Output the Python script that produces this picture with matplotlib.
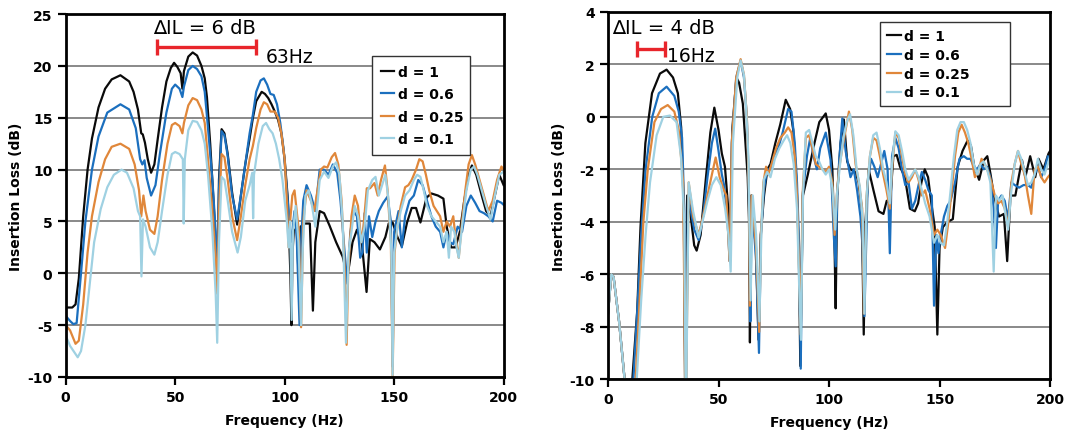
import numpy as np
import matplotlib.pyplot as plt

plt.rcParams['font.family'] = 'DejaVu Sans'
plt.rcParams['axes.unicode_minus'] = False

# Insertion loss curves, columns = frequency (Hz), IL (dB)
# ---- left panel ----
left_d1 = np.array([
    [0, -3.3], [3, -3.3], [4.5, -3.0], [6, -0.5], [8, 5.5], [10, 10.0], [12, 13.0], [15, 16.0],
    [18, 17.8], [21, 18.7], [25, 19.1], [29, 18.5], [31, 17.5], [33, 15.8], [34.5, 13.5],
    [35.2, 13.4], [36.2, 12.6], [37.5, 11.0], [39, 9.7], [40.5, 10.5], [42, 12.9], [44, 16.0],
    [46, 18.5], [48, 19.8], [49.5, 20.3], [51, 19.9], [52.5, 19.3], [53.3, 17.8], [54, 19.5],
    [56, 20.9], [58, 21.3], [60, 21.0], [62, 20.0], [63.5, 18.8], [64.5, 17.0], [66, 12.5],
    [67.5, 7.0], [68.5, 3.0], [69.3, -1.0], [70, 9.0], [71.2, 13.9], [72.5, 13.5], [74, 11.5],
    [76, 7.8], [78.3, 4.7], [80, 7.5], [82, 10.5], [84, 13.0], [85.5, 15.0], [87, 16.6],
    [89.5, 17.5], [91, 17.3], [92.5, 16.9], [94, 16.3], [95.5, 15.6], [97, 14.8], [98.5, 13.5],
    [100, 11.0], [101.5, 7.0], [102.6, 0.0], [103.1, -5.0], [103.6, 2.0], [104.2, 4.2],
    [105.5, 4.2], [106.4, -0.5], [107.3, 4.5], [109, 4.8], [111.5, 4.8], [112.9, -3.6],
    [114, 3.0], [116, 6.0], [118, 5.8], [120.5, 4.6], [123.5, 3.0], [126.5, 1.6], [128.6, -0.3],
    [129.5, 0.8], [131, 3.0], [133, 4.2], [135.2, 3.0], [137.4, -1.8], [138.9, 3.3], [141, 3.0],
    [143.5, 2.3], [146, 3.5], [147.5, 4.8], [149.3, 4.9], [151.5, 3.5], [153.5, 2.6],
    [155.9, 4.9], [158, 6.3], [160, 6.3], [162, 4.9], [164.8, 7.3], [167, 7.7], [170, 7.5],
    [172.5, 7.2], [174, 4.5], [176, 2.5], [178, 2.5], [180, 4.0], [182, 7.0], [184, 9.5],
    [185.5, 10.4], [187.5, 9.5], [190, 7.5], [192, 6.0], [194, 5.5], [196, 7.5], [198, 9.5],
    [200, 8.5]])

left_d06 = np.array([
    [0, -4.1], [2, -4.6], [3.5, -4.9], [5, -4.8], [7, 0.0], [9, 5.0], [12, 10.0], [15, 13.2],
    [19, 15.5], [25, 16.3], [29, 15.8], [32, 14.0], [34, 11.0], [35, 10.5], [36, 10.9], [37, 9.2],
    [39, 7.5], [41, 8.5], [43, 11.5], [46, 15.5], [48.5, 17.8], [50, 18.2], [52, 17.8],
    [53.3, 17.0], [54, 18.0], [56, 19.6], [58, 20.0], [60, 19.7], [62, 19.0], [63.5, 17.5],
    [65, 14.0], [67, 9.0], [68.5, 4.0], [69.3, 0.0], [70, 8.0], [71.2, 13.7], [72.5, 13.3],
    [74, 11.3], [76, 7.5], [78.3, 5.2], [80, 7.5], [82, 10.5], [84, 13.5], [85.5, 15.3],
    [87, 17.5], [89, 18.6], [90.5, 18.8], [92, 18.2], [93.5, 17.3], [95, 17.2], [96.5, 16.3],
    [98, 14.5], [99.5, 12.0], [101, 8.0], [102, 5.5], [102.8, 3.0], [103.5, 4.0], [104.5, 6.0],
    [105.5, 3.5], [106.8, -5.0], [107.5, 3.0], [108.5, 7.0], [110, 8.5], [112, 7.5], [114, 6.0],
    [116, 10.0], [118, 10.0], [120, 9.5], [122, 10.5], [124, 9.7], [125.5, 7.0], [127, 3.0],
    [128.6, -1.0], [130, 4.0], [131.5, 6.0], [133, 5.5], [134.5, 1.5], [135.5, 2.0],
    [136.5, 5.8], [137.5, 2.0], [138.5, 5.5], [140, 3.5], [141.5, 5.0], [143, 6.0], [145, 6.8],
    [147, 7.4], [148.5, 5.0], [149.3, -9.0], [150, 4.0], [152, 6.0], [153.5, 2.5], [155, 5.5],
    [157, 7.0], [159, 7.5], [161, 9.0], [163, 8.5], [165, 7.0], [167, 5.5], [169, 4.5],
    [171, 4.0], [172.5, 2.5], [174, 4.0], [175.5, 3.0], [177, 2.8], [179, 4.5], [181, 4.0],
    [183, 6.5], [185, 7.5], [187, 6.8], [189, 6.0], [191, 5.8], [193, 5.5], [195, 5.0],
    [197, 7.0], [199, 6.8], [200, 6.6]])

left_d025 = np.array([
    [0, -5.0], [2, -5.5], [4.5, -6.8], [6, -6.5], [8, -3.0], [10, 2.0], [12, 5.5], [15, 8.8],
    [18, 11.0], [21, 12.2], [25, 12.5], [29, 12.0], [31.5, 10.5], [33.5, 8.0], [34.5, 5.5],
    [35.5, 7.5], [36.5, 6.0], [38.5, 4.2], [40.5, 3.8], [42, 5.5], [44, 9.0], [46.5, 12.5],
    [48.5, 14.3], [50, 14.5], [52, 14.2], [53.3, 13.5], [54, 14.5], [56, 16.2], [58, 16.9],
    [60, 16.7], [62, 15.8], [63.5, 14.5], [65, 11.0], [67, 6.0], [68.7, 1.0], [69.3, -2.0],
    [70, 6.0], [71.2, 11.5], [72.5, 11.2], [74, 9.0], [76, 5.5], [78.3, 3.2], [80, 5.5],
    [82, 8.5], [84, 11.0], [85.5, 12.3], [87, 14.0], [89, 15.8], [90.5, 16.5], [92, 16.3],
    [93.5, 15.6], [95.5, 15.6], [97, 15.0], [98.5, 13.5], [100, 11.0], [101, 7.0], [101.8, 2.5],
    [102.5, 5.0], [103.5, 7.5], [104.5, 8.0], [105.5, 6.0], [106.5, 4.0], [107.5, -5.2],
    [108.5, 5.0], [110, 8.0], [112, 7.0], [113.5, 6.0], [115, 8.0], [116.5, 10.0], [118, 10.3],
    [119.5, 10.2], [121.5, 11.2], [123, 11.6], [124.5, 10.5], [126, 7.0], [127.5, 0.0],
    [128.3, -6.9], [129, 0.0], [130.5, 5.5], [132, 7.5], [133.5, 6.5], [135, 3.0], [136, 4.5],
    [137.5, 8.2], [139, 8.2], [141, 8.7], [142.5, 7.5], [144, 9.0], [145.8, 10.4], [147, 8.0],
    [148.5, 3.0], [149.3, -10.0], [150.2, 2.0], [151.5, 4.5], [153, 6.5], [155, 8.3],
    [156.5, 8.5], [158, 9.0], [160, 10.0], [161.5, 11.0], [163, 10.8], [164.5, 9.5], [166, 8.0],
    [168, 6.5], [169.5, 6.0], [171, 5.5], [172.5, 4.0], [174, 5.0], [175.5, 4.5], [177, 5.5],
    [178, 3.5], [179.5, 1.5], [181, 5.0], [182.5, 8.0], [184, 10.5], [185.5, 11.4], [187, 10.5],
    [189, 9.0], [191, 7.5], [193, 6.0], [195, 7.0], [197, 9.0], [199, 10.3], [200, 10.0]])

left_d01 = np.array([
    [0, -6.0], [2, -7.0], [5.5, -8.1], [7, -7.5], [9, -5.0], [11, -1.0], [13, 3.0], [16, 6.2],
    [19, 8.3], [22, 9.5], [25.5, 10.0], [28, 9.7], [31, 8.2], [33, 6.0], [34, 5.5], [34.6, -0.3],
    [35.3, 5.2], [36.5, 4.5], [38.5, 2.5], [40.5, 1.8], [42, 3.0], [44, 6.0], [46.5, 9.5],
    [48.5, 11.5], [50, 11.7], [52, 11.5], [53.5, 11.0], [53.9, 4.8], [54.4, 11.0], [56, 13.8],
    [58, 14.7], [60, 14.6], [62, 13.8], [63.5, 12.5], [65, 9.5], [67, 4.0], [68.5, -2.0],
    [69.2, -6.7], [70, 3.0], [71.2, 9.3], [72.5, 9.0], [74, 7.0], [76, 4.0], [78.5, 2.0],
    [80, 3.5], [82, 7.0], [84, 8.5], [85.2, 9.7], [85.6, 5.3], [86, 9.5], [88, 12.5], [90, 14.2],
    [91.5, 14.5], [93, 13.9], [94.5, 13.5], [96, 12.5], [97.5, 11.0], [99, 9.0], [100, 7.0],
    [101, 5.0], [101.8, 2.5], [102.5, 5.0], [103.2, -4.5], [103.8, 4.0], [105, 6.5],
    [106.3, 3.0], [107.5, -5.0], [108.3, 2.5], [109.5, 7.5], [111, 8.0], [112.5, 6.5],
    [114, 4.5], [116, 9.0], [118, 9.8], [120, 9.2], [122, 10.3], [123.5, 10.7], [125, 9.5],
    [126.5, 5.0], [128, -6.7], [129.2, 2.0], [130.5, 4.0], [132, 6.5], [133.5, 5.5], [135, 3.0],
    [136.5, 4.5], [138, 8.0], [140, 9.0], [141.5, 9.3], [143, 7.5], [144.5, 8.5], [146, 9.5],
    [147.5, 7.0], [148.7, 2.0], [149.3, -9.8], [150, 2.0], [151.5, 4.5], [153, 6.0], [155, 7.5],
    [157, 8.0], [159, 9.0], [160.5, 9.5], [162, 9.3], [163.5, 8.0], [165, 6.5], [167, 5.5],
    [169, 5.0], [171, 4.5], [172.5, 3.0], [174, 4.0], [175, 1.5], [176, 4.5], [177.5, 4.0],
    [178.5, 2.5], [179.5, 1.5], [181, 4.5], [183, 8.0], [185, 10.0], [186.5, 10.3], [188, 9.5],
    [190, 8.0], [192, 6.5], [194, 5.2], [196, 7.5], [198, 9.5], [200, 9.8]])

# ---- right panel ----
right_d1 = np.array([
    [0, -7.5], [1.5, -6.0], [2.5, -6.1], [5, -7.8], [7.5, -10.0], [9.5, -13.0], [11, -10.0],
    [13.2, -7.4], [14.7, -4.2], [16.9, -1.0], [19.9, 0.9], [23.5, 1.65], [26.5, 1.8],
    [29.4, 1.5], [31.6, 0.9], [33.1, -0.4], [34.3, -3.6], [35, -12.0], [35.8, -3.0], [37, -3.5],
    [39, -4.9], [40.1, -5.1], [41.9, -4.5], [44.1, -2.5], [46.3, -0.6], [48.1, 0.35], [50, -0.5],
    [51.5, -1.4], [52.9, -1.9], [54.4, -3.5], [55.2, -5.5], [56.2, -0.5], [58.1, 1.5],
    [59.3, 1.3], [61, 0.5], [63.2, -2.3], [63.8, -4.0], [64.2, -8.6], [64.8, -3.0], [66.9, -5.0],
    [68.1, -8.5], [69.1, -4.5], [70.6, -3.0], [72.1, -2.0], [73.5, -1.8], [75.7, -1.0],
    [77.9, -0.3], [80.4, 0.65], [82.4, 0.3], [83.8, -0.5], [85.3, -2.5], [86.3, -5.0],
    [87, -9.5], [88.2, -3.0], [90.4, -2.2], [93.4, -1.0], [95.6, -0.2], [98.5, 0.13],
    [100, -0.5], [101.5, -2.0], [102.5, -5.0], [103, -7.3], [103.7, -3.0], [105.2, -1.0],
    [106.7, -0.1], [108.2, -1.7], [109.7, -2.0], [111.9, -2.1], [113.4, -2.5], [114.8, -3.5],
    [115.7, -8.3], [116.5, -4.0], [117.9, -2.0], [120.1, -2.8], [122.4, -3.6], [124.6, -3.7],
    [126.1, -3.2], [127.6, -3.3], [129.1, -1.5], [130.6, -1.45], [132.1, -1.9], [134.3, -2.3],
    [136.6, -3.5], [138.8, -3.6], [140.3, -3.3], [141.8, -2.5], [143.3, -2.0], [144.8, -2.3],
    [146.3, -3.3], [147.8, -4.2], [149, -8.3], [150, -5.0], [151.5, -4.2], [153.7, -4.0],
    [156, -3.9], [158.2, -1.9], [160.4, -1.3], [162.7, -0.9], [164.2, -1.1], [165.7, -1.9],
    [167.9, -2.4], [170.1, -1.65], [171.6, -1.5], [173.1, -2.2], [174.6, -3.0], [176.9, -3.8],
    [179.1, -3.7], [180.6, -5.5], [182.1, -3.0], [184.3, -3.0], [185.8, -2.3], [187.3, -1.65],
    [188.8, -2.3], [191, -1.5], [193.3, -2.3], [194.8, -1.6], [197, -2.0], [199.3, -1.4],
    [200, -1.3]])

right_d06 = np.array([
    [0, -7.5], [1.5, -6.0], [2.5, -6.1], [5, -7.8], [7.5, -10.0], [9.5, -13.0], [11.5, -10.0],
    [13.5, -7.0], [15, -4.5], [17, -2.0], [20, 0.0], [23, 0.9], [26.5, 1.15], [30, 0.8],
    [32, 0.2], [33.5, -0.8], [34.5, -3.5], [35.1, -12.0], [36.2, -3.0], [39, -4.3], [41, -4.7],
    [43, -3.8], [45, -2.3], [47, -1.0], [48.5, -0.45], [50, -1.3], [51.5, -2.2], [52.5, -2.6],
    [54, -3.8], [55, -5.5], [56, -1.0], [58, 1.5], [60, 2.15], [61.5, 1.5], [62.8, 0.0],
    [63.5, -2.0], [64, -4.0], [64.4, -7.8], [65, -3.0], [67, -5.5], [68.3, -9.0], [69.2, -4.5],
    [70.5, -2.8], [72, -2.0], [73.5, -2.0], [75, -1.5], [77, -1.2], [79, -0.6], [81.5, 0.3],
    [83, 0.2], [84.5, -1.0], [85.5, -2.5], [86.5, -5.0], [87.2, -9.6], [88, -3.0], [90, -1.5],
    [91.5, -0.8], [93, -1.5], [94.5, -2.0], [96, -1.2], [98.5, -0.6], [100.7, -1.65],
    [102.2, -4.6], [103, -5.7], [103.7, -3.0], [104.5, -1.8], [106, -0.06], [107.5, -1.3],
    [109.7, -2.3], [111.2, -2.0], [112.7, -2.8], [114.2, -3.8], [115.2, -5.0], [116, -7.6],
    [117.5, -2.5], [119, -1.6], [120.5, -1.9], [122, -2.3], [123.5, -1.8], [125, -1.3],
    [126.5, -2.0], [127.5, -5.2], [128.5, -1.5], [130, -0.8], [131.5, -1.2], [133, -2.0],
    [134.5, -2.6], [136, -2.5], [137.5, -3.5], [139, -3.2], [140.5, -2.6], [142, -2.1],
    [143.5, -2.4], [145, -2.8], [146.5, -3.0], [147.5, -7.2], [148.5, -4.5], [149.5, -5.2],
    [150.5, -4.5], [152, -3.8], [153.5, -3.4], [155, -3.2], [157, -2.5], [159, -1.6],
    [161, -1.5], [162.5, -1.6], [164, -1.6], [165.5, -1.9], [167, -2.0], [168.5, -1.8],
    [170, -2.0], [171.5, -1.9], [173, -2.3], [174.5, -3.5], [175.5, -5.0], [176.5, -3.2],
    [178, -3.0], [179.5, -3.2], [181, -3.9], [182.5, -2.5], [184, -2.6], [186, -2.7],
    [188, -2.6], [190, -2.6], [191.5, -2.7], [193, -2.2], [194.5, -1.9], [196, -2.3],
    [197.5, -2.0], [199, -1.5], [200, -1.6]])

right_d025 = np.array([
    [0, -7.5], [1.5, -6.0], [2.5, -6.1], [5, -7.8], [7.5, -10.0], [9.5, -13.0], [12.5, -10.0],
    [14, -7.5], [16, -4.0], [18, -2.0], [21, -0.2], [24, 0.3], [27, 0.45], [30, 0.2],
    [32, -0.5], [34, -2.5], [35.1, -12.0], [36.5, -2.5], [38.5, -3.8], [41, -4.5], [43, -3.8],
    [45, -3.0], [47, -2.2], [48.7, -1.55], [50.5, -2.3], [52, -2.7], [53.5, -3.0], [55, -5.5],
    [56, -1.0], [58, 1.5], [60, 2.2], [61.5, 1.6], [62.8, 0.0], [63.8, -3.0], [64.2, -7.2],
    [65, -3.0], [67, -5.0], [68.4, -8.2], [69.2, -4.5], [70.3, -2.5], [71.5, -1.9], [72.5, -2.2],
    [74, -1.8], [76, -1.2], [78, -0.8], [80, -0.6], [81.5, -0.4], [83, -0.6], [84.5, -1.5],
    [85.5, -3.0], [86.5, -6.0], [87.2, -8.3], [88, -3.0], [89.5, -0.8], [91, -0.7],
    [92.5, -1.2], [94, -1.8], [95.5, -1.9], [97, -2.0], [98.5, -2.1], [100, -1.9],
    [101.5, -2.5], [102.5, -4.5], [103.5, -3.0], [104.5, -2.0], [106, -1.2], [107.5, -0.5],
    [109, 0.2], [110.5, -0.5], [112, -1.8], [113.5, -2.5], [115, -3.5], [115.8, -7.5],
    [117, -3.0], [118.5, -1.5], [120, -0.8], [121.5, -0.9], [123, -1.5], [124.5, -2.2],
    [126, -2.8], [127.5, -3.5], [128.5, -2.0], [130, -0.6], [131.5, -0.8], [133, -1.5],
    [134.5, -2.2], [136, -2.5], [137.5, -2.3], [139, -2.0], [140.5, -2.4], [142, -3.0],
    [143.5, -2.8], [145.5, -3.5], [147.5, -4.5], [149, -4.3], [150.5, -4.5], [152.5, -5.0],
    [154, -4.0], [155.5, -2.8], [157, -1.5], [158.5, -0.6], [160, -0.3], [161.5, -0.6],
    [163, -1.0], [164.5, -1.6], [166, -2.3], [167.5, -2.1], [169, -1.6], [170.5, -1.8],
    [172, -2.1], [173.5, -2.5], [175, -3.0], [176.5, -3.3], [178, -3.2], [179.5, -3.5],
    [181, -4.2], [182.5, -2.5], [184, -1.8], [185.5, -1.3], [187, -1.8], [188.5, -2.2],
    [190, -3.0], [191.5, -3.7], [193, -2.0], [194.5, -1.9], [196, -2.3], [197.5, -2.5],
    [199, -2.3], [200, -2.2]])

right_d01 = np.array([
    [0, -7.5], [1.5, -6.0], [2.5, -6.1], [5, -7.8], [7.5, -10.0], [9.5, -13.0], [13, -10.0],
    [15, -7.0], [17, -4.5], [19, -2.5], [22, -0.7], [25, 0.0], [28, 0.05], [31, -0.2],
    [33, -1.5], [34.5, -4.0], [35.2, -12.0], [36.5, -2.5], [38.5, -3.6], [41, -4.6], [43, -3.9],
    [45, -3.2], [47, -2.6], [49, -2.3], [51, -2.6], [53, -3.5], [54.5, -4.5], [55.5, -5.9],
    [56.5, -1.0], [58.5, 1.5], [60, 2.15], [61.5, 1.6], [62.5, 0.3], [63.5, -1.5], [64.5, -7.0],
    [65.5, -3.0], [67, -4.5], [68.5, -7.8], [69.5, -4.0], [70.5, -2.4], [72, -2.1], [73.5, -2.3],
    [75.5, -1.6], [77.5, -1.2], [79.5, -0.9], [81, -0.7], [82.5, -1.0], [84, -1.8], [85.5, -3.5],
    [86.5, -6.5], [87.3, -8.5], [88.2, -3.0], [89.5, -0.6], [91, -0.5], [92.5, -1.0],
    [94, -1.5], [95.5, -1.7], [97, -2.0], [98.5, -2.2], [100, -2.0], [101.5, -2.7],
    [102.8, -4.3], [103.5, -3.0], [105, -1.8], [106.5, -0.8], [108, -0.2], [109.5, 0.1],
    [111, -0.7], [112.5, -2.0], [114, -2.7], [115.3, -4.0], [116, -7.5], [117, -3.0],
    [118.5, -1.5], [120, -0.7], [121.5, -0.6], [123, -1.2], [124.5, -2.0], [126, -2.5],
    [127.5, -3.3], [128.5, -1.8], [130, -0.55], [131.5, -0.7], [133, -1.3], [134.5, -2.0],
    [136, -2.4], [137.5, -2.2], [139, -2.0], [140.5, -2.3], [142, -2.8], [143.5, -3.3],
    [145.5, -3.8], [147.5, -4.8], [149, -4.5], [150.5, -4.8], [152, -4.9], [153.5, -4.0],
    [155, -2.8], [156.5, -1.5], [158, -0.5], [159.5, -0.2], [161, -0.2], [162.5, -0.5],
    [164, -1.0], [165.5, -1.8], [167, -2.2], [168.5, -1.8], [170, -1.7], [171.5, -2.0],
    [173, -2.5], [174.5, -5.9], [175.5, -3.0], [177, -3.2], [178.5, -3.0], [180, -3.8],
    [181, -4.3], [182.5, -2.8], [184, -1.8], [185.5, -1.3], [187, -1.6], [188.5, -2.1],
    [190, -2.6], [191.5, -2.5], [193, -2.2], [194.5, -1.6], [196, -2.0], [197.5, -2.2],
    [199, -1.8], [200, -1.5]])

labels = ['d = 1', 'd = 0.6', 'd = 0.25', 'd = 0.1']
colors = ['#0a0a0a', '#1b6fbe', '#e0873a', '#9fd1e2']


def style_axes(ax, ymin, ymax, ystep):
    ax.set_xlim(0, 200)
    ax.set_ylim(ymin, ymax)
    ax.set_xticks(np.arange(0, 201, 50))
    ax.set_yticks(np.arange(ymin, ymax + 0.1, ystep))
    ax.yaxis.grid(True, color='#808080', lw=1.3)
    ax.set_axisbelow(True)
    for s in ax.spines.values():
        s.set_linewidth(2)
        s.set_color('black')
    ax.tick_params(direction='out', length=6, width=1.6, labelsize=10)
    for t in ax.get_xticklabels() + ax.get_yticklabels():
        t.set_fontweight('bold')
    ax.set_xlabel('Frequency (Hz)', fontsize=10, fontweight='bold', labelpad=6)
    ax.set_ylabel('Insertion Loss (dB)', fontsize=10, fontweight='bold', labelpad=3)


fig = plt.figure(figsize=(10.75, 4.31), dpi=100)
ax1 = fig.add_axes([0.0611, 0.123, 0.4074, 0.842])
ax2 = fig.add_axes([0.5656, 0.118, 0.4112, 0.852])

for data, lab, c in zip([left_d1, left_d06, left_d025, left_d01], labels, colors):
    ax1.plot(data[:, 0], data[:, 1], color=c, lw=1.6, label=lab)
for data, lab, c in zip([right_d1, right_d06, right_d025, right_d01], labels, colors):
    ax2.plot(data[:, 0], data[:, 1], color=c, lw=1.6, label=lab)

style_axes(ax1, -10, 25, 5)
style_axes(ax2, -10, 4, 2)

# delta IL annotations
ax1.text(63.5, 23.7, '\u2206IL = 6 dB', fontsize=14, ha='center', va='center')
ax1.errorbar(64.3, 21.8, xerr=22.6, fmt='none', ecolor='#e8252b', elinewidth=2.4,
             capsize=5.5, capthick=2.4)
ax1.text(91.5, 20.9, '63Hz', fontsize=13.5, ha='left', va='center')

ax2.text(1.8, 3.4, '\u2206IL = 4 dB', fontsize=14, ha='left', va='center')
ax2.errorbar(19.4, 2.6, xerr=6.4, fmt='none', ecolor='#e8252b', elinewidth=2.4,
             capsize=5.5, capthick=2.4)
ax2.text(26.5, 2.35, '16Hz', fontsize=13.5, ha='left', va='center')

leg_kw = dict(loc='upper left', mode='expand', frameon=True, fancybox=False, framealpha=1,
              edgecolor='#333333', handlelength=1.0, handletextpad=0.25,
              borderaxespad=0)
leg1 = ax1.legend(bbox_to_anchor=(0.70, 0.636, 0.223, 0.248), borderpad=0.6,
                  labelspacing=0.62, prop={'weight': 'bold', 'size': 10}, **leg_kw)
leg2 = ax2.legend(bbox_to_anchor=(0.615, 0.757, 0.295, 0.216), borderpad=0.5,
                  labelspacing=0.35, prop={'weight': 'bold', 'size': 10}, **leg_kw)
for leg in (leg1, leg2):
    leg.get_frame().set_linewidth(1.0)

fig.savefig('out.png', dpi=100)
